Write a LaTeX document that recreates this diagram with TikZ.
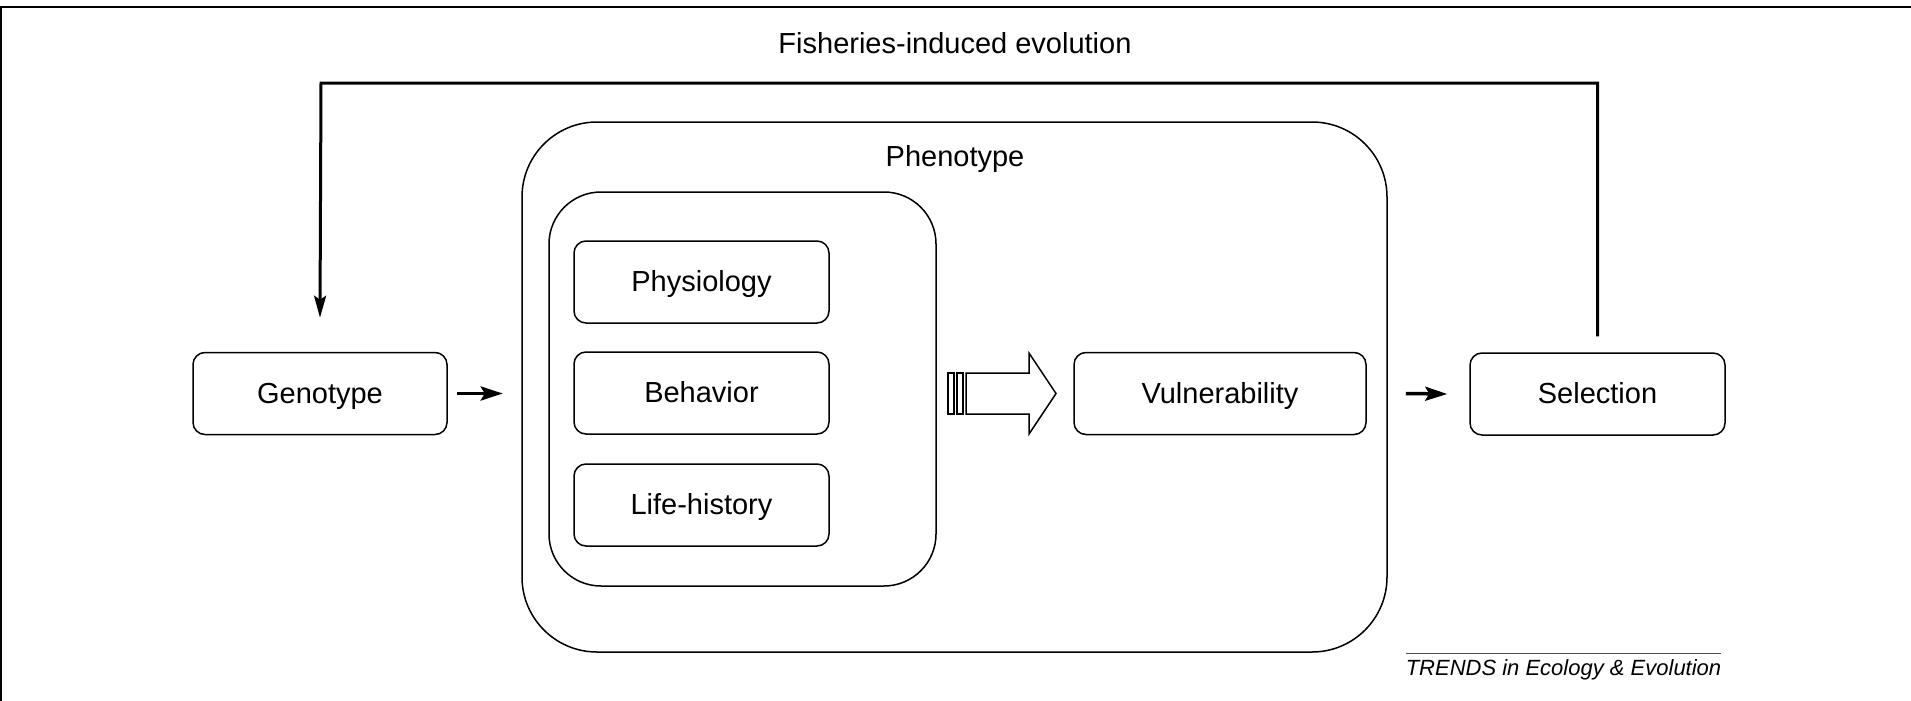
\documentclass[tikz,border=0pt]{standalone}
\usepackage{fontspec}
\setmainfont{Liberation Sans}
\usetikzlibrary{arrows.meta}
\begin{document}
\begin{tikzpicture}[x=1pt,y=-1pt,
  box/.style={draw=black,line width=1.5pt,rounded corners=12pt,inner sep=0pt,
    minimum width=255pt,minimum height=82pt,font=\fontsize{29}{34}\selectfont,
    text height=21pt,text depth=2pt},
  bigbox/.style={draw=black,line width=1.5pt,inner sep=0pt},
  lbl/.style={inner sep=0pt,anchor=base,font=\fontsize{29}{34}\selectfont},
  sarr/.style={line width=3.5pt,-{Stealth[length=22pt,width=14pt,inset=4pt]}},
  fb/.style={line width=3pt,-{Stealth[length=22pt,width=12pt,inset=4pt]}},
]
\useasboundingbox (0,0) rectangle (1911,701);
% frame
\draw[line width=2.5pt] (1.2,701) -- (1.2,7) -- (1911,7);

% phenotype containers
\node[bigbox,rounded corners=75pt,minimum width=865pt,minimum height=530pt] (phen) at (954.5,387) {};
\node[lbl] (phenlbl) at (955,166) {Phenotype};
\node[bigbox,rounded corners=52pt,minimum width=387pt,minimum height=394pt] (inner) at (742.5,389) {};

\node[box] (phys) at (701.5,282) {Physiology};
\node[box] (beh)  at (701.5,393) {Behavior};
\node[box] (life) at (701.5,505) {Life-history};

\node[box,minimum width=254pt] (gen) at (320,393.5) {Genotype};
\node[box,minimum width=292pt] (vul) at (1220,393.5) {Vulnerability};
\node[box] (sel) at (1597.5,394) {Selection};

% title
\node[lbl] (title) at (955,53) {Fisheries-induced evolution};

% feedback loop
\coordinate (fbL) at (321,83);
\coordinate (fbR) at (sel.north |- fbL);
\draw[fb,line join=miter] ([yshift=16pt]sel.north) -- (fbR) -- (fbL) -- ([yshift=34pt]gen.north);

% small arrows
\draw[sarr] ([xshift=9pt]gen.east) -- ([xshift=55pt]gen.east);
\draw[sarr] ([xshift=39pt]vul.east) -- ([xshift=-22pt]sel.west);

% big hollow arrow
\draw[line width=1.5pt,line join=miter] (966,373) -- (1029,373) -- (1029,353) -- (1056,393.5) -- (1029,434) -- (1029,414) -- (966,414) -- cycle;
\draw[line width=1.5pt] (948,373) rectangle (954,414);
\draw[line width=1.5pt] (957,373) rectangle (963,414);

% credit
\node[inner sep=0pt,anchor=base,font=\fontsize{22}{26}\selectfont\itshape] (trends) at (1563.5,675) {TRENDS in Ecology \& Evolution};
\draw[line width=1pt,black!70] ([yshift=5pt]trends.north west) -- ([yshift=5pt]trends.north east);
\end{tikzpicture}
\end{document}
